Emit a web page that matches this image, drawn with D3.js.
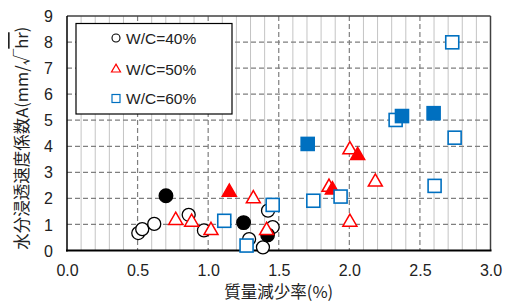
<!DOCTYPE html>
<html><head><meta charset="utf-8">
<script src="https://cdn.jsdelivr.net/npm/d3@7"></script>
<style>
body{margin:0;background:#fff;}
svg{display:block;}
text{font-family:"Liberation Sans",Arial,sans-serif;}
.cjk{font-family:"Noto Sans CJK JP","Liberation Sans",sans-serif;}
</style></head>
<body>
<script>
// ---- data ----
const xTicks = [0.0,0.5,1.0,1.5,2.0,2.5,3.0];
const yTicks = [0,1,2,3,4,5,6,7,8,9];
const seriesNames = ["W/C=40%","W/C=50%","W/C=60%"];
const wc40Open   = [[0.505,0.67],[0.533,0.82],[0.618,1.02],[0.862,1.37],[0.97,0.77],[1.29,0.44],[1.388,0.12],[1.424,1.53],[1.457,0.90]];
const wc40Filled = [[0.701,2.10],[1.251,1.07],[1.421,0.60]];
const wc50Open   = [[0.77,1.18],[0.883,1.11],[1.02,0.79],[1.32,2.01],[1.414,0.79],[1.856,2.45],[2.004,3.89],[2.004,1.11],[2.184,2.65]];
const wc50Filled = [[1.15,2.26],[1.88,2.35],[2.059,3.67]];
const wc60Open   = [[1.114,1.14],[1.272,0.19],[1.457,1.75],[1.745,1.91],[1.938,2.07],[2.328,5.01],[2.604,2.48],[2.729,7.99],[2.746,4.33]];
const wc60Filled = [[1.705,4.09],[2.373,5.16],[2.597,5.27]];

const W=510,H=305;
const L=67,R=490.5,T=16,B=250.5;
const svg=d3.select("body").append("svg").attr("width",W).attr("height",H);
const x=d3.scaleLinear().domain([0,3]).range([L,R]);
const y=d3.scaleLinear().domain([0,9]).range([B,T]);

// minor vertical grid
const minor=d3.range(1,30).map(i=>i/10).filter(v=>Math.abs(v*2-Math.round(v*2))>1e-6);
svg.append("g").selectAll("line").data(minor).join("line")
  .attr("x1",d=>x(d)).attr("x2",d=>x(d)).attr("y1",T).attr("y2",B)
  .attr("stroke","#c4c4c4").attr("stroke-width",1);
// major vertical dashed
svg.append("g").selectAll("line").data(xTicks.slice(1,-1)).join("line")
  .attr("x1",d=>x(d)).attr("x2",d=>x(d)).attr("y1",T).attr("y2",B)
  .attr("stroke","#7f7f7f").attr("stroke-width",1.2).attr("stroke-dasharray","5,3");
// horizontal dashed
svg.append("g").selectAll("line").data(yTicks.slice(1,-1)).join("line")
  .attr("x1",L).attr("x2",R).attr("y1",d=>y(d)).attr("y2",d=>y(d))
  .attr("stroke","#7f7f7f").attr("stroke-width",1.2).attr("stroke-dasharray","5,3");
// frame
svg.append("line").attr("x1",L).attr("x2",R).attr("y1",T).attr("y2",T).attr("stroke","#404040").attr("stroke-width",1.5);
svg.append("line").attr("x1",R).attr("x2",R).attr("y1",T).attr("y2",B).attr("stroke","#404040").attr("stroke-width",1.5);

// axes
const xAxis=svg.append("g").attr("transform",`translate(0,${B})`)
  .call(d3.axisBottom(x).tickValues(xTicks).tickFormat(d3.format(".1f")).tickSize(0).tickPadding(14));
const yAxis=svg.append("g").attr("transform",`translate(${L},0)`)
  .call(d3.axisLeft(y).tickValues(yTicks).tickFormat(d3.format("d")).tickSize(0).tickPadding(14));
[xAxis,yAxis].forEach(g=>{g.select(".domain").remove();g.selectAll("text").attr("font-size",16).attr("fill","#222").attr("font-family","Liberation Sans");});
yAxis.selectAll("text").attr("dy","0.35em");
svg.append("line").attr("x1",L).attr("x2",L).attr("y1",T).attr("y2",B+1).attr("stroke","#000").attr("stroke-width",1.5);
svg.append("line").attr("x1",L-1).attr("x2",R+1).attr("y1",B).attr("y2",B).attr("stroke","#000").attr("stroke-width",2);

// markers
const blue="#0070c0", red="#ff0000";
const tri=(s)=>{const h=s*0.87;return `M0,${-h*0.62}L${s/2},${h*0.38}L${-s/2},${h*0.38}Z`;};
function circles(data,filled){
  svg.append("g").selectAll("circle").data(data).join("circle")
    .attr("cx",d=>x(d[0])).attr("cy",d=>y(d[1])).attr("r",filled?6.8:6.5)
    .attr("fill",filled?"#000":"#fff").attr("stroke","#000").attr("stroke-width",1.3);
}
function tris(data,filled){
  svg.append("g").selectAll("path").data(data).join("path")
    .attr("transform",d=>`translate(${x(d[0])},${y(d[1])})`).attr("d",tri(14))
    .attr("fill",filled?red:"#fff").attr("stroke",red).attr("stroke-width",1.5);
}
function squares(data,filled){
  const s=13;
  svg.append("g").selectAll("rect").data(data).join("rect")
    .attr("x",d=>x(d[0])-s/2).attr("y",d=>y(d[1])-s/2).attr("width",s).attr("height",s)
    .attr("fill",filled?blue:"#fff").attr("stroke",blue).attr("stroke-width",1.6);
}
circles(wc40Open,false); circles(wc40Filled,true);
tris(wc50Open,false); tris(wc50Filled,true);
squares(wc60Open,false); squares(wc60Filled,true);

// legend
const lg=svg.append("g");
lg.append("rect").attr("x",76).attr("y",23.5).attr("width",156).attr("height",90.5).attr("fill","#fff").attr("stroke","#000").attr("stroke-width",1.2);
const ly=[38,69,98.5];
seriesNames.forEach((n,i)=>{
  const cx=116,cy=ly[i];
  if(i===0) lg.append("circle").attr("cx",cx).attr("cy",cy).attr("r",4).attr("fill","#fff").attr("stroke","#000").attr("stroke-width",1.1);
  if(i===1) lg.append("path").attr("transform",`translate(${cx},${cy})`).attr("d",tri(9)).attr("fill","#fff").attr("stroke",red).attr("stroke-width",1.2);
  if(i===2) lg.append("rect").attr("x",cx-4).attr("y",cy-4).attr("width",8).attr("height",8).attr("fill","#fff").attr("stroke",blue).attr("stroke-width",1.2);
  lg.append("text").attr("x",126).attr("y",cy).attr("dy","0.36em").attr("font-size",15.5).attr("fill","#222").text(n);
});

// titles
svg.append("text").attr("class","cjk").attr("x",(L+R)/2).attr("y",298).attr("text-anchor","middle")
  .attr("font-size",16.5).attr("fill","#222").text("質量減少率(%)");
const yt=svg.append("text").attr("class","cjk").attr("transform",`translate(28,${(T+B)/2+5}) rotate(-90)`)
  .attr("text-anchor","middle").attr("font-size",16.5).attr("fill","#222");
yt.append("tspan").text("水分浸透速度係数A(mm/√");
yt.append("tspan").attr("text-decoration","overline").text("hr");
yt.append("tspan").text(")");
</script>
</body></html>
